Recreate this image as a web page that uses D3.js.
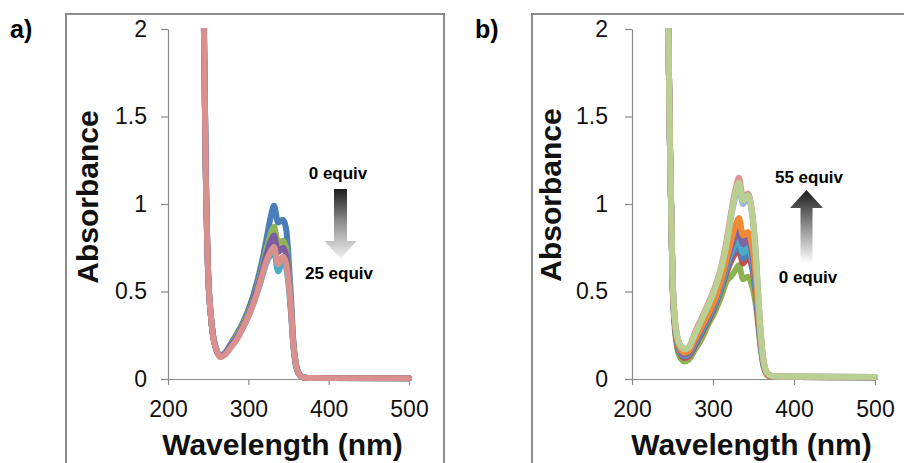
<!DOCTYPE html>
<html>
<head>
<meta charset="utf-8">
<script src="https://cdn.jsdelivr.net/npm/d3@7"></script>
<style>
  html, body { margin: 0; padding: 0; background: #fff; }
  svg { display: block; font-family: "Liberation Sans", Arial, sans-serif; }
</style>
</head>
<body>
<svg id="chart" width="904" height="463"></svg>
<script>
// Wavelength grid (nm) shared by every spectrum
const wavelengths = [238, 243, 245, 247, 250, 253, 256, 260, 265, 270, 278, 286, 294, 302, 310, 317, 323, 328, 332, 337, 343, 347, 350, 353, 356, 359, 363, 368, 375, 400, 500];

// Panel a: absorbance spectra, 0 equiv -> 25 equiv
const a_blue   = [3.5, 2.6, 1.9, 1.2, 0.60, 0.38, 0.25, 0.17, 0.135, 0.145, 0.20, 0.26, 0.33, 0.42, 0.54, 0.67, 0.81, 0.93, 0.99, 0.895, 0.91, 0.86, 0.70, 0.47, 0.22, 0.09, 0.03, 0.010, 0.006, 0.005, 0.004];
const a_green  = [3.5, 2.6, 1.9, 1.2, 0.60, 0.38, 0.25, 0.17, 0.132, 0.142, 0.19, 0.25, 0.32, 0.40, 0.51, 0.63, 0.75, 0.83, 0.87, 0.775, 0.79, 0.75, 0.62, 0.43, 0.21, 0.09, 0.03, 0.010, 0.006, 0.005, 0.004];
const a_purple = [3.5, 2.6, 1.9, 1.2, 0.60, 0.38, 0.25, 0.17, 0.130, 0.140, 0.19, 0.24, 0.31, 0.39, 0.50, 0.61, 0.72, 0.79, 0.82, 0.725, 0.75, 0.71, 0.59, 0.41, 0.20, 0.09, 0.03, 0.010, 0.006, 0.005, 0.004];
const a_teal   = [3.5, 2.6, 1.9, 1.2, 0.60, 0.38, 0.25, 0.17, 0.128, 0.138, 0.18, 0.23, 0.30, 0.38, 0.48, 0.58, 0.67, 0.71, 0.73, 0.615, 0.675, 0.64, 0.54, 0.38, 0.19, 0.08, 0.03, 0.010, 0.006, 0.005, 0.004];
const a_pink   = [3.5, 2.6, 1.9, 1.2, 0.60, 0.38, 0.25, 0.17, 0.125, 0.135, 0.18, 0.23, 0.30, 0.38, 0.48, 0.59, 0.68, 0.73, 0.755, 0.655, 0.70, 0.66, 0.56, 0.40, 0.20, 0.09, 0.03, 0.010, 0.006, 0.005, 0.004];

// Panel b: absorbance spectra, 0 equiv -> 55 equiv
const b_green  = [3.5, 2.6, 1.95, 1.3, 0.55, 0.28, 0.17, 0.12, 0.10, 0.11, 0.17, 0.23, 0.31, 0.38, 0.47, 0.56, 0.59, 0.625, 0.65, 0.57, 0.585, 0.55, 0.50, 0.42, 0.30, 0.17, 0.06, 0.02, 0.014, 0.012, 0.010];
const b_red    = [3.5, 2.6, 1.95, 1.3, 0.56, 0.30, 0.19, 0.14, 0.12, 0.13, 0.19, 0.26, 0.33, 0.41, 0.51, 0.61, 0.68, 0.72, 0.74, 0.66, 0.70, 0.66, 0.59, 0.48, 0.33, 0.19, 0.07, 0.02, 0.014, 0.012, 0.010];
const b_blue   = [3.5, 2.6, 1.95, 1.3, 0.57, 0.31, 0.20, 0.15, 0.13, 0.14, 0.20, 0.27, 0.34, 0.42, 0.52, 0.63, 0.71, 0.75, 0.77, 0.69, 0.73, 0.69, 0.61, 0.50, 0.34, 0.19, 0.07, 0.02, 0.014, 0.012, 0.010];
const b_teal   = [3.5, 2.6, 1.95, 1.3, 0.57, 0.31, 0.20, 0.15, 0.135, 0.145, 0.21, 0.28, 0.35, 0.43, 0.53, 0.65, 0.73, 0.78, 0.80, 0.72, 0.756, 0.71, 0.63, 0.51, 0.35, 0.20, 0.07, 0.02, 0.014, 0.012, 0.010];
const b_purple = [3.5, 2.6, 1.95, 1.3, 0.58, 0.32, 0.21, 0.16, 0.14, 0.15, 0.22, 0.29, 0.36, 0.44, 0.55, 0.67, 0.76, 0.82, 0.85, 0.77, 0.80, 0.75, 0.66, 0.53, 0.37, 0.21, 0.08, 0.02, 0.014, 0.012, 0.010];
const b_orange = [3.5, 2.6, 1.95, 1.3, 0.58, 0.32, 0.22, 0.17, 0.15, 0.16, 0.23, 0.30, 0.37, 0.45, 0.56, 0.69, 0.80, 0.88, 0.92, 0.82, 0.84, 0.79, 0.71, 0.57, 0.39, 0.22, 0.08, 0.02, 0.014, 0.012, 0.010];
const b_ltblue = [3.5, 2.6, 1.95, 1.3, 0.60, 0.34, 0.24, 0.19, 0.17, 0.18, 0.26, 0.34, 0.42, 0.51, 0.63, 0.78, 0.94, 1.05, 1.10, 1.00, 1.04, 0.98, 0.87, 0.69, 0.46, 0.25, 0.09, 0.03, 0.016, 0.014, 0.012];
const b_pink   = [3.5, 2.6, 1.95, 1.3, 0.60, 0.34, 0.24, 0.19, 0.17, 0.18, 0.27, 0.35, 0.43, 0.52, 0.64, 0.80, 0.97, 1.09, 1.15, 1.04, 1.06, 1.00, 0.89, 0.71, 0.47, 0.26, 0.09, 0.03, 0.016, 0.014, 0.012];
const b_ltgreen= [3.5, 2.6, 1.95, 1.3, 0.60, 0.34, 0.24, 0.19, 0.17, 0.18, 0.26, 0.34, 0.42, 0.51, 0.63, 0.78, 0.95, 1.07, 1.12, 1.02, 1.05, 0.99, 0.88, 0.70, 0.47, 0.26, 0.09, 0.03, 0.016, 0.014, 0.012];

// Axis ticks
const xTicks = [200, 300, 400, 500];
const yTicks = [0, 0.5, 1, 1.5, 2];
const yTickLabels = ["0", "0.5", "1", "1.5", "2"];

const seriesA = [
  { values: a_teal,   color: "#4BACC6" },
  { values: a_blue,   color: "#4A7EBB" },
  { values: a_green,  color: "#92B356" },
  { values: a_purple, color: "#7B5E9E" },
  { values: a_pink,   color: "#D9908E" }
];
const seriesB = [
  { values: b_green,   color: "#8DB254" },
  { values: b_red,     color: "#C0504D" },
  { values: b_blue,    color: "#4F81BD" },
  { values: b_teal,    color: "#4BACC6" },
  { values: b_purple,  color: "#8064A2" },
  { values: b_orange,  color: "#F08A35" },
  { values: b_ltblue,  color: "#95B3D7" },
  { values: b_pink,    color: "#DA9694" },
  { values: b_ltgreen, color: "#B9D092" }
];

const svg = d3.select("#chart");
const defs = svg.append("defs");

const axisColor = "#8a8a8a";

function drawPanel(cfg) {
  const g = svg.append("g");

  // outer chart-area frame
  g.append("rect")
    .attr("x", cfg.frame[0]).attr("y", cfg.frame[1])
    .attr("width", cfg.frame[2]).attr("height", cfg.frame[3])
    .attr("fill", "none").attr("stroke", "#8c8c8c").attr("stroke-width", 2);

  const x = d3.scaleLinear().domain([200, 500]).range([cfg.left, cfg.right]);
  const y = d3.scaleLinear().domain([0, 2]).range([cfg.bottom, cfg.top]);

  const clipId = "clip-" + cfg.id;
  defs.append("clipPath").attr("id", clipId)
    .append("rect")
    .attr("x", cfg.left - 10).attr("y", cfg.top - 1)
    .attr("width", cfg.right - cfg.left + 20).attr("height", cfg.bottom - cfg.top + 12);

  // axes
  const yAxis = d3.axisLeft(y).tickValues(yTicks)
    .tickFormat((d, i) => yTickLabels[i]).tickSize(7).tickSizeOuter(0).tickPadding(cfg.yPad);
  const yg = g.append("g").attr("transform", `translate(${cfg.left},0)`).call(yAxis);

  const xAxis = d3.axisBottom(x).tickValues(xTicks).tickFormat(d3.format("d"))
    .tickSize(6).tickSizeOuter(0).tickPadding(16);
  const xg = g.append("g").attr("transform", `translate(0,${cfg.bottom})`).call(xAxis);

  [yg, xg].forEach(ax => {
    ax.select(".domain").attr("stroke", axisColor).attr("stroke-width", 1.2);
    ax.selectAll(".tick line").attr("stroke", axisColor).attr("stroke-width", 1.2);
    ax.selectAll(".tick text").attr("fill", "#111").style("font-size", "23px")
      .style("font-family", "'Liberation Sans', Arial, sans-serif");
  });

  // spectra
  const line = d3.line()
    .x((d, i) => x(wavelengths[i]))
    .y(d => y(d))
    .curve(d3.curveMonotoneX);

  g.append("g").attr("clip-path", `url(#${clipId})`)
    .selectAll("path")
    .data(cfg.series)
    .join("path")
    .attr("d", d => line(d.values))
    .attr("fill", "none")
    .attr("stroke", d => d.color)
    .attr("stroke-width", 6)
    .attr("stroke-linejoin", "round")
    .attr("stroke-linecap", "round");

  // axis titles
  g.append("text")
    .attr("x", (cfg.left + cfg.right) / 2 + cfg.xTitleShift).attr("y", 455)
    .attr("text-anchor", "middle")
    .style("font-size", "30px").style("font-weight", "bold").attr("fill", "#111")
    .text("Wavelength (nm)");

  g.append("text")
    .attr("transform", `translate(${cfg.yTitleX},${cfg.yTitleY}) rotate(-90)`)
    .attr("text-anchor", "middle")
    .style("font-size", "30px").style("font-weight", "bold").attr("fill", "#111")
    .text("Absorbance");

  // panel letter
  g.append("text")
    .attr("x", cfg.letterX).attr("y", 38)
    .style("font-size", "25px").style("font-weight", "bold").attr("fill", "#000")
    .text(cfg.letter);

  // gradient arrow with its two labels
  const gradId = "grad-" + cfg.id;
  const grad = defs.append("linearGradient").attr("id", gradId)
    .attr("x1", 0).attr("y1", 0).attr("x2", 0).attr("y2", 1);
  const stops = cfg.arrow.down
    ? [["0%", "#1c1c1c"], ["45%", "#8a8a8a"], ["100%", "#f4f4f4"]]
    : [["0%", "#1c1c1c"], ["55%", "#9a9a9a"], ["100%", "#ffffff"]];
  stops.forEach(s => grad.append("stop").attr("offset", s[0]).attr("stop-color", s[1]));

  const A = cfg.arrow;
  let pts;
  if (A.down) {
    pts = [[A.cx - A.sw / 2, A.top], [A.cx + A.sw / 2, A.top], [A.cx + A.sw / 2, A.headY],
           [A.cx + A.hw / 2, A.headY], [A.cx, A.bottom], [A.cx - A.hw / 2, A.headY],
           [A.cx - A.sw / 2, A.headY]];
  } else {
    pts = [[A.cx, A.top], [A.cx + A.hw / 2, A.headY], [A.cx + A.sw / 2, A.headY],
           [A.cx + A.sw / 2, A.bottom], [A.cx - A.sw / 2, A.bottom], [A.cx - A.sw / 2, A.headY],
           [A.cx - A.hw / 2, A.headY]];
  }
  g.append("path")
    .attr("d", "M" + pts.map(p => p.join(",")).join("L") + "Z")
    .attr("fill", `url(#${gradId})`);

  A.labels.forEach(l => {
    g.append("text")
      .attr("x", l.x).attr("y", l.y)
      .attr("text-anchor", "middle")
      .style("font-size", "17px").style("font-weight", "bold").attr("fill", "#000")
      .text(l.text);
  });
}

drawPanel({
  id: "a", letter: "a)", letterX: 10,
  frame: [66, 14, 378, 470],
  left: 168, right: 409, top: 29, bottom: 379, yPad: 14,
  xTitleShift: -6, yTitleX: 98, yTitleY: 197,
  series: seriesA,
  arrow: {
    down: true, cx: 340.5, sw: 13, hw: 32, top: 189, headY: 241, bottom: 259,
    labels: [{ text: "0 equiv", x: 338, y: 179 }, { text: "25 equiv", x: 339, y: 279 }]
  }
});

drawPanel({
  id: "b", letter: "b)", letterX: 475,
  frame: [532, 14, 400, 470],
  left: 632, right: 875, top: 29, bottom: 379, yPad: 17,
  xTitleShift: -2, yTitleX: 561, yTitleY: 195,
  series: seriesB,
  arrow: {
    down: false, cx: 806.5, sw: 12, hw: 33, top: 190, headY: 208, bottom: 263,
    labels: [{ text: "55 equiv", x: 809, y: 183 }, { text: "0 equiv", x: 808, y: 283 }]
  }
});
</script>
</body>
</html>
